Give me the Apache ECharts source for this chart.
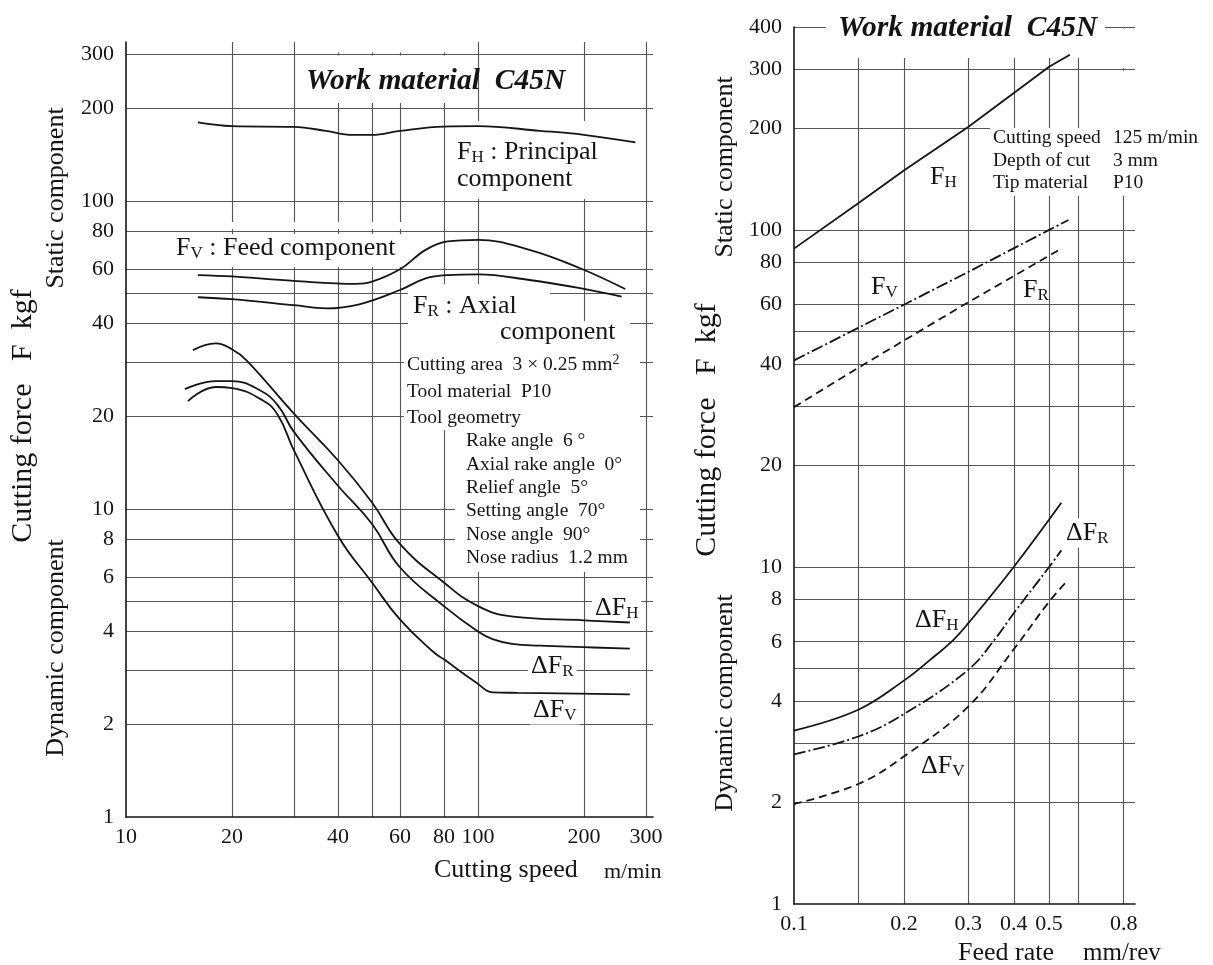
<!DOCTYPE html>
<html><head><meta charset="utf-8">
<script src="https://cdn.jsdelivr.net/npm/echarts@6/dist/echarts.min.js"></script>
<style>html,body{margin:0;padding:0;background:#fff}#c{width:1213px;height:965px}</style>
</head><body><div id="c"></div>
<script>
// ---------- axis ticks ----------
const speedGrid   = [20, 30, 40, 50, 60, 80, 100, 200, 300];
const speedLabels = [10, 20, 40, 60, 80, 100, 200, 300];
const forceGridL   = [2, 3, 4, 5, 6, 8, 10, 20, 30, 40, 50, 60, 80, 100, 200, 300];
const forceLabelsL = [1, 2, 4, 6, 8, 10, 20, 40, 60, 80, 100, 200, 300];
const feedGrid   = [0.15, 0.2, 0.3, 0.4, 0.5, 0.6, 0.8];
const feedLabels = [0.1, 0.2, 0.3, 0.4, 0.5, 0.8];
const forceGridR   = [2, 3, 4, 5, 6, 8, 10, 20, 30, 40, 50, 60, 80, 100, 200, 300, 400];
const forceLabelsR = [1, 2, 4, 6, 8, 10, 20, 40, 60, 80, 100, 200, 300, 400];

// ---------- left panel: cutting speed (m/min) vs force (kgf) ----------
const speedFH  = [[16,180],[20,175],[30,174],[37,169],[44,164],[50,164],[60,169],[80,174.5],[100,175],[150,169],[200,164],[280,155]];
const speedFV  = [[16,57.5],[20,56.9],[30,55],[45,53.8],[50,54.7],[60,60],[71,69.4],[82,73.9],[100,74.8],[140,69.4],[195,60.5],[262,51.8]];
const speedFR  = [[16,48.7],[20,48],[30,45.9],[37,44.8],[46,46.2],[60,51.4],[71,56.1],[82,57.5],[100,57.8],[140,55.4],[195,52.1],[256,48.9]];
const speedDFH = [[15.5,32.8],[18,34.5],[20,33],[22,30.4],[30,20.4],[40,14.4],[50,10.5],[60,7.7],[80,5.77],[100,4.84],[126,4.47],[200,4.35],[270,4.28]];
const speedDFR = [[14.7,24.5],[18,26],[20,26],[24,24.3],[27,21.7],[30,17.8],[40,11.9],[50,8.94],[60,6.47],[80,4.84],[100,4.0],[110,3.78],[125,3.65],[150,3.6],[200,3.56],[270,3.52]];
const speedDFV = [[15,22.4],[18,24.9],[20,24.7],[24.5,22.5],[27,20.2],[30,15.5],[40,8.19],[50,5.77],[60,4.38],[75,3.42],[80,3.25],[99,2.73],[110,2.54],[130,2.53],[270,2.5]];

// ---------- right panel: feed rate (mm/rev) vs force (kgf) ----------
const feedFH  = [[0.1,88],[0.15,120],[0.2,150],[0.3,202],[0.5,305],[0.57,331]];
const feedFV  = [[0.1,41],[0.2,60],[0.3,75],[0.5,100],[0.565,107]];
const feedFR  = [[0.1,29.8],[0.15,39],[0.3,61],[0.54,88]];
const feedDFH = [[0.1,3.27],[0.15,3.77],[0.2,4.6],[0.236,5.3],[0.273,6.07],[0.3,6.8],[0.4,10],[0.54,15.5]];
const feedDFR = [[0.1,2.78],[0.15,3.14],[0.2,3.66],[0.3,4.95],[0.355,6.1],[0.4,7.29],[0.5,10],[0.54,11.2]];
const feedDFV = [[0.1,1.98],[0.15,2.27],[0.2,2.74],[0.3,3.85],[0.4,5.7],[0.5,7.89],[0.553,8.95]];

// ---------- texts ----------
const titleText = 'Work material  C45N';
const infoLeft1 = ['Cutting area  3 × 0.25 mm{sup|2}', 'Tool material  P10', 'Tool geometry'];
const infoLeft2 = ['Rake angle  6 °', 'Axial rake angle  0°', 'Relief angle  5°', 'Setting angle  70°', 'Nose angle  90°', 'Nose radius  1.2 mm'];
const infoRightKeys = ['Cutting speed', 'Depth of cut', 'Tip material'];
const infoRightVals = ['125 m/min', '3 mm', 'P10'];

const SERIF = '"Liberation Serif", "Times New Roman", serif';
const INK = '#141414';
const GRIDC = '#555555';

const chart = echarts.init(document.getElementById('c'), null, {renderer: 'canvas'});

function axisX(gi, min, max, grid, labels) {
  return {
    type: 'log', gridIndex: gi, min: min, max: max, logBase: 10,
    axisLine: {show: true, onZero: false, lineStyle: {color: INK, width: 1.6}},
    axisTick: {show: false, customValues: grid},
    axisLabel: {customValues: labels, color: INK, fontFamily: SERIF, fontSize: 22, margin: 9},
    splitLine: {show: true, lineStyle: {color: GRIDC, width: 1.1}}
  };
}
function axisY(gi, min, max, grid, labels) {
  return {
    type: 'log', gridIndex: gi, min: min, max: max, logBase: 10,
    axisLine: {show: true, onZero: false, lineStyle: {color: INK, width: 1.6}},
    axisTick: {show: false, customValues: grid},
    axisLabel: {customValues: labels, color: INK, fontFamily: SERIF, fontSize: 22, margin: 12},
    splitLine: {show: true, lineStyle: {color: GRIDC, width: 1.1}}
  };
}
function curve(name, data, gi, dash, smooth) {
  return {
    type: 'line', name: name, data: data, xAxisIndex: gi, yAxisIndex: gi,
    smooth: smooth, symbol: 'none', showSymbol: false, z: 3, silent: true,
    lineStyle: {color: INK, width: 1.8, type: dash}
  };
}
const DASH = [8, 5];
const DASHDOT = [12, 3, 2, 3];

function mask(x, y, w, h) {
  return {type: 'rect', z: 1, silent: true, shape: {x: x, y: y, width: w, height: h}, style: {fill: '#fff'}};
}
const RICH = {
  s: {fontSize: 17, fontFamily: SERIF, fill: INK, padding: [12, 0, 0, 0]},
  sup: {fontSize: 14, fontFamily: SERIF, fill: INK, padding: [0, 0, 10, 0]}
};
function txt(x, y, text, size, extra) {
  return {
    type: 'text', z: 2, silent: true, x: x, y: y,
    style: Object.assign({text: text, fontFamily: SERIF, fontSize: size, fill: INK,
      align: 'left', verticalAlign: 'middle', rich: RICH}, extra || {})
  };
}
function vtxt(x, y, text, size) {
  return {
    type: 'text', z: 2, silent: true, x: x, y: y, rotation: Math.PI / 2,
    style: {text: text, fontFamily: SERIF, fontSize: size, fill: INK, align: 'center', verticalAlign: 'middle'}
  };
}
const WB = {backgroundColor: '#fff', padding: [0, 3]};

const elements = [
  // masks (gaps in the printed grid)
  mask(330, 40, 135, 12.6), mask(330, 55.6, 135, 47.4),
  mask(450, 121, 155, 78),
  mask(150, 222, 262, 7), mask(150, 234, 262, 33),
  mask(408, 284, 142, 37), mask(408, 321, 222, 29),
  mask(404, 350, 236, 80), mask(455, 430, 185, 142),
  mask(826, 6, 279, 52),
  mask(1108, 28.6, 32, 39.4), mask(1088, 70.6, 52, 125.4),
  mask(990, 128, 220, 68),
  // left titles & labels
  txt(306, 81, titleText, 29.5, {fontWeight: 'bold', fontStyle: 'italic'}),
  txt(457, 152, 'F{s|H} : Principal', 26),
  txt(457, 179, 'component', 26),
  txt(176, 248, 'F{s|V} : Feed component', 26),
  txt(413, 306, 'F{s|R} : Axial', 26),
  txt(500, 332, 'component', 26),
  txt(592, 608, 'ΔF{s|H}', 26, WB),
  txt(528, 666, 'ΔF{s|R}', 26, WB),
  txt(530, 710, 'ΔF{s|V}', 26, WB),
  txt(434, 870, 'Cutting speed', 26),
  txt(604, 872, 'm/min', 22),
  vtxt(56, 198, 'Static component', 26),
  vtxt(56, 648, 'Dynamic component', 26),
  vtxt(23, 416, 'Cutting force   F  kgf', 30),
  // right titles & labels
  txt(838, 28, titleText, 29.5, {fontWeight: 'bold', fontStyle: 'italic'}),
  txt(930, 177, 'F{s|H}', 26),
  txt(871, 287, 'F{s|V}', 26),
  txt(1023, 290, 'F{s|R}', 26),
  txt(912, 620, 'ΔF{s|H}', 26, WB),
  txt(1063, 533, 'ΔF{s|R}', 26, WB),
  txt(918, 766, 'ΔF{s|V}', 26, WB),
  txt(958, 953, 'Feed rate', 26),
  txt(1083, 953, 'mm/rev', 25),
  vtxt(725, 167, 'Static component', 26),
  vtxt(725, 703, 'Dynamic component', 26),
  vtxt(707, 430, 'Cutting force   F  kgf', 30)
];
infoLeft1.forEach((t, i) => elements.push(txt(407, 365 + i * 26.5, t, 19.5)));
infoLeft2.forEach((t, i) => elements.push(txt(466, 441 + i * 23.4, t, 19.5)));
infoRightKeys.forEach((t, i) => elements.push(txt(993, 138 + i * 22.5, t, 19.5)));
infoRightVals.forEach((t, i) => elements.push(txt(1113, 138 + i * 22.5, t, 19.5)));

chart.setOption({
  animation: false,
  backgroundColor: '#fff',
  grid: [
    {left: 126, top: 42, width: 527, height: 775, outerBoundsMode: 'none', containLabel: false},
    {left: 794, top: 27, width: 341, height: 877, outerBoundsMode: 'none', containLabel: false}
  ],
  xAxis: [
    axisX(0, 10, 314.2, speedGrid, speedLabels),
    axisX(1, 0.1, 0.8595, feedGrid, feedLabels)
  ],
  yAxis: [
    axisY(0, 1, 328.3, forceGridL, forceLabelsL),
    axisY(1, 1, 400, forceGridR, forceLabelsR)
  ],
  series: [
    curve('F_H', speedFH, 0, 'solid', 0.4),
    curve('F_V', speedFV, 0, 'solid', 0.4),
    curve('F_R', speedFR, 0, 'solid', 0.4),
    curve('dF_H', speedDFH, 0, 'solid', 0.45),
    curve('dF_R', speedDFR, 0, 'solid', 0.45),
    curve('dF_V', speedDFV, 0, 'solid', 0.45),
    curve('F_H r', feedFH, 1, 'solid', false),
    curve('F_V r', feedFV, 1, DASHDOT, false),
    curve('F_R r', feedFR, 1, DASH, false),
    curve('dF_H r', feedDFH, 1, 'solid', 0.4),
    curve('dF_R r', feedDFR, 1, DASHDOT, 0.4),
    curve('dF_V r', feedDFV, 1, DASH, 0.4)
  ],
  graphic: {elements: elements}
});
</script>
</body></html>
